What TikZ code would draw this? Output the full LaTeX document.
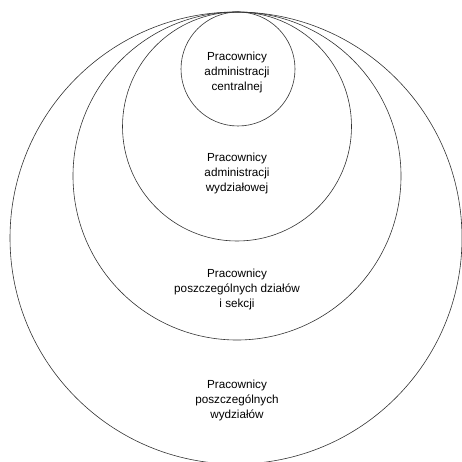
\documentclass[tikz,border=0pt]{standalone}
\usepackage{fontspec}
\setmainfont{Liberation Sans}
\begin{document}
\begin{tikzpicture}[x=1pt,y=-1pt,
  ring/.style={circle,draw=black!80,line width=0.6pt,inner sep=0pt},
  label/.style={align=center,font=\fontsize{11.7}{15}\selectfont,inner sep=0pt}]
  \useasboundingbox (0,0) rectangle (462,462);
  \clip (0,0) rectangle (462,462);
  % nested groups, all touching at the top
  \node[ring,minimum size=452pt] (wydzialy) at (236,238) {};
  \node[ring,minimum size=328pt] (dzialy) at (237,176) {};
  \node[ring,minimum size=229pt] (admwydz) at (237,126.5) {};
  \node[ring,minimum size=114pt] (admcent) at (238,69) {};
  % captions
  \node[label] (t1) at (237,72) {Pracownicy\\administracji\\centralnej};
  \node[label] (t2) at (237,173) {Pracownicy\\administracji\\wydziałowej};
  \node[label] (t3) at (237,289) {Pracownicy\\poszczególnych działów\\i sekcji};
  \node[label] (t4) at (237,400) {Pracownicy\\poszczególnych\\wydziałów};
\end{tikzpicture}
\end{document}
